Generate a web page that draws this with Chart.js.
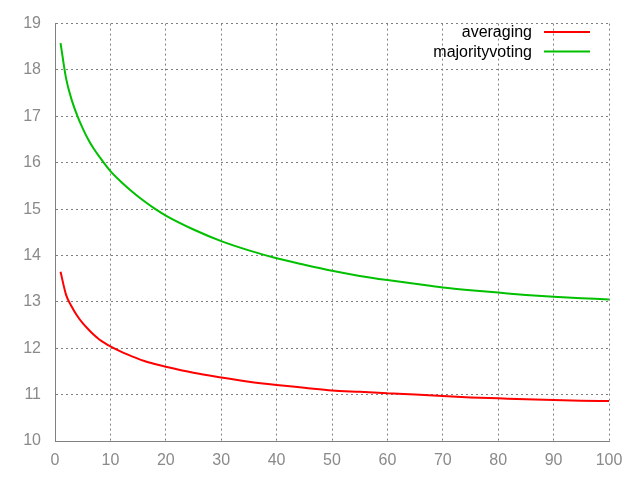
<!DOCTYPE html>
<html>
<head>
<meta charset="utf-8">
<script src="https://cdn.jsdelivr.net/npm/chart.js@4/dist/chart.umd.min.js"></script>
<style>
  html, body { margin: 0; padding: 0; background: #fff; }
  #wrap { width: 640px; height: 480px; }
</style>
</head>
<body>
<div id="wrap"><canvas id="chart" width="640" height="480"></canvas></div>
<script>
// values
const xValues = [1, 2, 3, 4, 5, 6, 7, 8, 9, 10, 12, 14, 16, 18, 20, 25, 30, 35, 40, 45, 50, 55, 60, 65, 70, 75, 80, 85, 90, 95, 100];
const averaging = [13.65, 13.15, 12.90, 12.70, 12.54, 12.41, 12.29, 12.19, 12.11, 12.04, 11.92, 11.82, 11.73, 11.66, 11.60, 11.47, 11.37, 11.28, 11.21, 11.15, 11.09, 11.06, 11.03, 11.00, 10.97, 10.94, 10.92, 10.90, 10.885, 10.87, 10.86];
const majorityVoting = [18.58, 17.82, 17.36, 17.02, 16.74, 16.50, 16.30, 16.13, 15.97, 15.82, 15.58, 15.37, 15.18, 15.01, 14.86, 14.56, 14.31, 14.11, 13.94, 13.80, 13.67, 13.56, 13.47, 13.39, 13.31, 13.25, 13.20, 13.15, 13.11, 13.08, 13.05];
const seriesNames = ['averaging', 'majorityvoting'];
const seriesColors = ['#ff0000', '#00c000'];

const toPoints = (ys) => xValues.map((x, i) => ({ x: x, y: ys[i] }));

// gnuplot-like legend: text right aligned, sample line to the right
const legendPlugin = {
  id: 'gnuLegend',
  afterDraw(chart) {
    const ctx = chart.ctx;
    ctx.save();
    ctx.font = '16px "Liberation Sans", Arial, sans-serif';
    ctx.textAlign = 'right';
    ctx.textBaseline = 'middle';
    chart.data.datasets.forEach((ds, i) => {
      const y = 32 + i * 19.5;
      ctx.fillStyle = '#000';
      ctx.fillText(ds.label, 532, y + 1);
      ctx.strokeStyle = ds.borderColor;
      ctx.lineWidth = 2;
      ctx.beginPath();
      ctx.moveTo(544, y);
      ctx.lineTo(590, y);
      ctx.stroke();
    });
    ctx.restore();
  }
};

Chart.defaults.font.family = '"Liberation Sans", Arial, sans-serif';
Chart.defaults.font.size = 16;

new Chart(document.getElementById('chart').getContext('2d'), {
  type: 'line',
  data: {
    datasets: [
      {
        label: seriesNames[0],
        data: toPoints(averaging),
        borderColor: seriesColors[0],
        borderWidth: 2,
        pointRadius: 0,
        cubicInterpolationMode: 'monotone',
        fill: false
      },
      {
        label: seriesNames[1],
        data: toPoints(majorityVoting),
        borderColor: seriesColors[1],
        borderWidth: 2,
        pointRadius: 0,
        cubicInterpolationMode: 'monotone',
        fill: false
      }
    ]
  },
  options: {
    responsive: false,
    animation: false,
    layout: { padding: { top: 20, right: 31, left: 0, bottom: 0 } },
    plugins: {
      legend: { display: false },
      tooltip: { enabled: false }
    },
    scales: {
      x: {
        type: 'linear',
        min: 0,
        max: 100,
        afterFit: (axis) => { axis.height = 39; },
        grid: {
          color: '#808080',
          drawTicks: false,
          lineWidth: 1
        },
        border: { display: true, color: '#808080', dash: [2, 3] },
        ticks: { stepSize: 10, color: '#8a8a8a', padding: 10 }
      },
      y: {
        min: 10,
        max: 19,
        afterFit: (axis) => { axis.width = 55; },
        grid: {
          color: '#808080',
          drawTicks: false,
          lineWidth: 1
        },
        border: { display: true, color: '#808080', dash: [2, 3] },
        ticks: { stepSize: 1, color: '#8a8a8a', padding: 14 }
      }
    }
  },
  plugins: [legendPlugin]
});
</script>
</body>
</html>
